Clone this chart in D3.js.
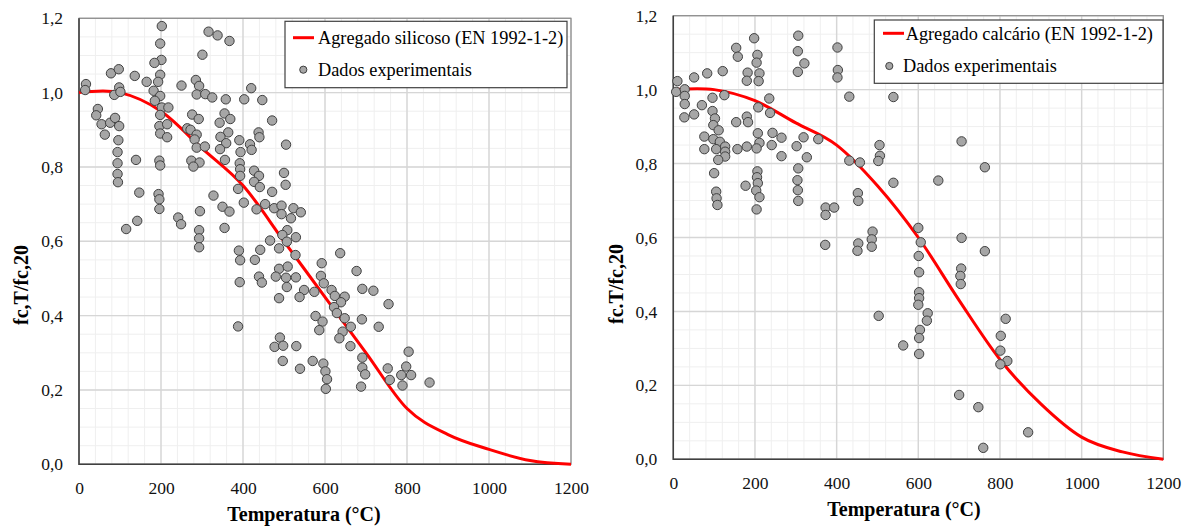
<!DOCTYPE html>
<html>
<head>
<meta charset="utf-8">
<script src="https://cdn.jsdelivr.net/npm/d3@7"></script>
<style>
body{margin:0;background:#fff}
svg{display:block}
</style>
</head>
<body>
<div id="chart"></div>
<script>
var W=1192, H=527

//---axis ticks---
var xTicks=[0,200,400,600,800,1000,1200]
var yTicks=[0,0.2,0.4,0.6,0.8,1.0,1.2]

//---EN 1992-1-2 reduction factors---
var enTemps=[0,100,200,300,400,500,600,700,800,900,1000,1100,1200]
var enSilicoso=[1,1,0.95,0.85,0.75,0.6,0.45,0.3,0.15,0.08,0.04,0.01,0]
var enCalcario=[1,1,0.97,0.91,0.85,0.74,0.6,0.43,0.27,0.15,0.06,0.02,0]

//---experimental data [T, fc,T/fc,20]---
var ptsSilicoso=[
[17,1.023],[15,1.007],[46,0.956],[42,0.939],[55,0.915],[63,0.887],[78,1.052],[97,1.063],[86,0.994],[98,1.014],[101,1.002],[76,0.919],[88,0.932],[98,0.910],[96,0.872],[94,0.840],[94,0.810],[94,0.781],[95,0.759],[136,1.045],[165,1.029],[139,0.819],[147,0.731],[142,0.655],[115,0.633],
[202,1.179],[198,1.132],[201,1.088],[184,1.080],[198,1.048],[193,1.029],[182,1.005],[198,0.991],[185,0.978],[202,0.960],[218,0.960],[198,0.940],[196,0.910],[215,0.915],[198,0.890],[215,0.880],[196,0.817],[198,0.804],[194,0.727],[196,0.713],[196,0.687],
[250,1.019],[242,0.664],[249,0.646],[285,1.034],[293,1.018],[287,0.995],[308,0.996],[325,0.987],[301,1.102],[316,1.164],[338,1.154],[367,1.139],
[276,0.941],[292,0.929],[264,0.904],[272,0.900],[287,0.887],[282,0.874],[287,0.852],[307,0.855],[274,0.817],[294,0.812],[279,0.801],[328,0.723],[295,0.681],[293,0.630],[293,0.608],[293,0.584],
[358,0.982],[403,0.982],[420,1.012],[447,0.980],[355,0.944],[369,0.929],[343,0.919],[364,0.893],[345,0.881],[359,0.864],[344,0.848],[356,0.819],[391,0.872],[394,0.840],[392,0.810],[393,0.794],[393,0.776],[388,0.741],[402,0.704],[350,0.693],[367,0.680],[355,0.636],[433,0.686],[390,0.575],[442,0.577],
[417,0.861],[421,0.846],[438,0.893],[440,0.880],[471,0.925],[505,0.860],[427,0.790],[439,0.776],[427,0.760],[441,0.746],[471,0.733],[500,0.784],[504,0.752],[454,0.700],[476,0.689],[494,0.696],[494,0.673],[523,0.689],[517,0.662],[508,0.630],[529,0.611],[496,0.617],[507,0.599],[466,0.602],[488,0.581],[528,0.563],
[541,0.678],[637,0.568],[429,0.550],[393,0.549],[488,0.526],[509,0.532],[592,0.541],[677,0.520],[590,0.507],
[392,0.490],[388,0.371],[439,0.505],[446,0.489],[480,0.505],[505,0.502],[529,0.503],[507,0.477],[488,0.447],[549,0.469],[538,0.450],[574,0.464],[597,0.487],[616,0.469],[624,0.453],[648,0.451],[639,0.436],[691,0.472],[718,0.467],[755,0.431],[622,0.423],[629,0.407],[577,0.399],[594,0.384],[586,0.361],[648,0.393],[663,0.370],[643,0.357],[635,0.339],[662,0.318],[690,0.390],[731,0.370],
[691,0.287],[691,0.260],[698,0.242],[688,0.209],[753,0.258],[758,0.227],[804,0.303],[798,0.263],[786,0.240],[810,0.240],[789,0.212],[855,0.220],
[490,0.341],[477,0.316],[498,0.319],[530,0.318],[497,0.278],[539,0.257],[570,0.278],[596,0.271],[601,0.250],[605,0.229],[602,0.203]
]
var ptsCalcario=[
[10,1.023],[7,0.994],[28,1.001],[28,0.983],[28,0.961],[27,0.925],[51,1.033],[51,0.933],[70,0.958],[83,1.044],[96,0.978],[121,1.050],[125,0.985],[96,0.942],[102,0.922],[98,0.904],[111,0.890],[76,0.873],[98,0.866],[114,0.859],[76,0.839],[105,0.839],[127,0.846],[127,0.832],[127,0.819],[110,0.810],[100,0.774],[105,0.724],[106,0.706],[108,0.688],
[154,1.113],[158,1.089],[182,1.046],[180,1.024],[198,1.139],[206,1.094],[204,1.073],[211,1.044],[209,1.023],[154,0.912],[180,0.927],[183,0.912],[157,0.839],[180,0.846],[177,0.740],[208,0.952],[207,0.882],[211,0.856],[204,0.841],[206,0.779],[205,0.763],[207,0.747],[203,0.727],[211,0.709],[204,0.676],
[235,0.976],[237,0.937],[243,0.883],[241,0.850],[265,0.870],[265,0.820],
[306,1.146],[305,1.104],[321,1.071],[305,1.048],[319,0.871],[302,0.847],[327,0.817],[306,0.787],[304,0.755],[305,0.728],[306,0.699],
[355,0.866],[373,0.681],[373,0.661],[394,0.681],[372,0.580],[402,1.114],[403,1.053],[402,1.033],[431,0.981],[431,0.808],[457,0.803],[452,0.720],[453,0.699],[453,0.584],[451,0.564],[488,0.616],[486,0.595],[486,0.575],[505,0.850],[506,0.821],[502,0.807],[539,0.980],[539,0.748],
[706,0.860],[763,0.790],[649,0.754],[600,0.626],[606,0.587],[706,0.599],[763,0.563],[601,0.550],
[602,0.506],[602,0.452],[602,0.436],[600,0.418],[623,0.395],[621,0.375],[604,0.350],[602,0.328],[602,0.285],[503,0.388],[563,0.308],[705,0.516],[703,0.496],[704,0.474],
[814,0.380],[802,0.334],[801,0.294],[818,0.266],[801,0.257],[700,0.174],[747,0.141],[759,0.031],[869,0.073]
]

var xTitle="Temperatura (°C)"
var FONT="'Liberation Serif', 'Times New Roman', serif"

var ptLocale=d3.formatLocale({decimal:",",thousands:".",grouping:[3],currency:["","€"]})
var fmtY=ptLocale.format(".1f")
var fmtX=ptLocale.format("d")

var svg=d3.select("#chart").append("svg")
  .attr("width",W).attr("height",H)
  .attr("viewBox","0 0 "+W+" "+H)

function drawPanel(p)
{
  var g=svg.append("g")
  var x=d3.scaleLinear().domain([0,1200]).range([p.left,p.right])
  var y=d3.scaleLinear().domain([0,1.2]).range([p.bottom,p.top])

  //---minor grid---
  g.append("g").selectAll("line").data(d3.range(40,1200,40)).enter().append("line")
    .attr("x1",d=>x(d)).attr("x2",d=>x(d)).attr("y1",p.top).attr("y2",p.bottom)
    .attr("stroke","#efefef").attr("stroke-width",1)
  g.append("g").selectAll("line").data(d3.range(1,24).map(i=>i*0.05)).enter().append("line")
    .attr("x1",p.left).attr("x2",p.right).attr("y1",d=>y(d)).attr("y2",d=>y(d))
    .attr("stroke","#efefef").attr("stroke-width",1)
  //---major grid---
  g.append("g").selectAll("line").data(xTicks).enter().append("line")
    .attr("x1",d=>x(d)).attr("x2",d=>x(d)).attr("y1",p.top).attr("y2",p.bottom)
    .attr("stroke","#d6d6d6").attr("stroke-width",1.4)
  g.append("g").selectAll("line").data(yTicks).enter().append("line")
    .attr("x1",p.left).attr("x2",p.right).attr("y1",d=>y(d)).attr("y2",d=>y(d))
    .attr("stroke","#d6d6d6").attr("stroke-width",1.4)

  //---frame---
  g.append("rect")
    .attr("x",p.left).attr("y",p.top)
    .attr("width",p.right-p.left).attr("height",p.bottom-p.top)
    .attr("fill","none").attr("stroke","#8c8c8c").attr("stroke-width",1.2)
  g.append("path")
    .attr("d","M"+p.left+","+p.top+"V"+p.bottom+"H"+p.right)
    .attr("fill","none").attr("stroke","#404040").attr("stroke-width",1.5)

  //---EN curve (smoothed like the spreadsheet line)---
  var line=d3.line().x(d=>x(d[0])).y(d=>y(d[1])).curve(d3.curveCardinal.tension(0))
  g.append("path")
    .datum(enTemps.map((t,i)=>[t,p.curve[i]]))
    .attr("d",line)
    .attr("fill","none").attr("stroke","#ff0000").attr("stroke-width",3)

  //---points---
  g.append("g").selectAll("circle").data(p.pts).enter().append("circle")
    .attr("cx",d=>x(d[0])).attr("cy",d=>y(d[1])).attr("r",4.7)
    .attr("fill","#a6a6a6").attr("stroke","#404040").attr("stroke-width",1)

  //---axes---
  var ax=g.append("g").attr("transform","translate(0,"+p.bottom+")")
    .call(d3.axisBottom(x).tickValues(xTicks).tickFormat(fmtX).tickSize(0).tickPadding(17))
  ax.select(".domain").remove()
  ax.attr("font-family",FONT).attr("font-size",17.5).attr("color","#111")

  var ay=g.append("g").attr("transform","translate("+p.left+",0)")
    .call(d3.axisLeft(y).tickValues(yTicks).tickFormat(fmtY).tickSize(0).tickPadding(16))
  ay.select(".domain").remove()
  ay.attr("font-family",FONT).attr("font-size",17.5).attr("color","#111")

  //---titles---
  g.append("text")
    .attr("x",p.xTitleX).attr("y",p.xTitleY)
    .attr("text-anchor","middle")
    .attr("font-family",FONT).attr("font-size",20).attr("font-weight","bold")
    .text(xTitle)
  g.append("text")
    .attr("transform","translate("+p.yTitleX+","+p.yTitleY+") rotate(-90)")
    .attr("text-anchor","middle")
    .attr("font-family",FONT).attr("font-size",20).attr("font-weight","bold")
    .text(p.yTitle)

  //---legend---
  var L=p.legend
  var lg=g.append("g")
  lg.append("rect")
    .attr("x",L.x).attr("y",L.y).attr("width",L.w).attr("height",L.h)
    .attr("fill","#fff").attr("stroke","#404040").attr("stroke-width",1.2)
  lg.append("line")
    .attr("x1",L.lineX1).attr("x2",L.lineX2).attr("y1",L.lineY).attr("y2",L.lineY)
    .attr("stroke","#ff0000").attr("stroke-width",3)
  lg.append("text")
    .attr("x",L.text1X).attr("y",L.text1Y)
    .attr("font-family",FONT).attr("font-size",18.3)
    .text(p.curveName)
  lg.append("circle")
    .attr("cx",L.dotX).attr("cy",L.dotY).attr("r",3.6)
    .attr("fill","#a6a6a6").attr("stroke","#404040").attr("stroke-width",1)
  lg.append("text")
    .attr("x",L.text2X).attr("y",L.text2Y)
    .attr("font-family",FONT).attr("font-size",18.3)
    .text("Dados experimentais")
}

drawPanel({
  left:79, right:571, top:18.3, bottom:464.3,
  curve:enSilicoso, pts:ptsSilicoso,
  curveName:"Agregado silicoso (EN 1992-1-2)",
  yTitle:"fc,T/fc,20", yTitleX:28, yTitleY:285,
  xTitleX:304, xTitleY:520.5,
  legend:{x:285,y:21.3,w:282,h:66.4,lineX1:293,lineX2:314,lineY:37.7,text1X:318,text1Y:43.5,dotX:303.3,dotY:69.7,text2X:318,text2Y:75.5}
})

drawPanel({
  left:673.3, right:1163.3, top:15.7, bottom:459.3,
  curve:enCalcario, pts:ptsCalcario,
  curveName:"Agregado calcário (EN 1992-1-2)",
  yTitle:"fc.T/fc,20", yTitleX:623, yTitleY:284,
  xTitleX:904, xTitleY:515.5,
  legend:{x:874.3,y:20,w:288.7,h:63.3,lineX1:883,lineX2:904,lineY:33.3,text1X:905.7,text1Y:39.5,dotX:889.3,dotY:66,text2X:903,text2Y:72}
})
</script>
</body>
</html>
